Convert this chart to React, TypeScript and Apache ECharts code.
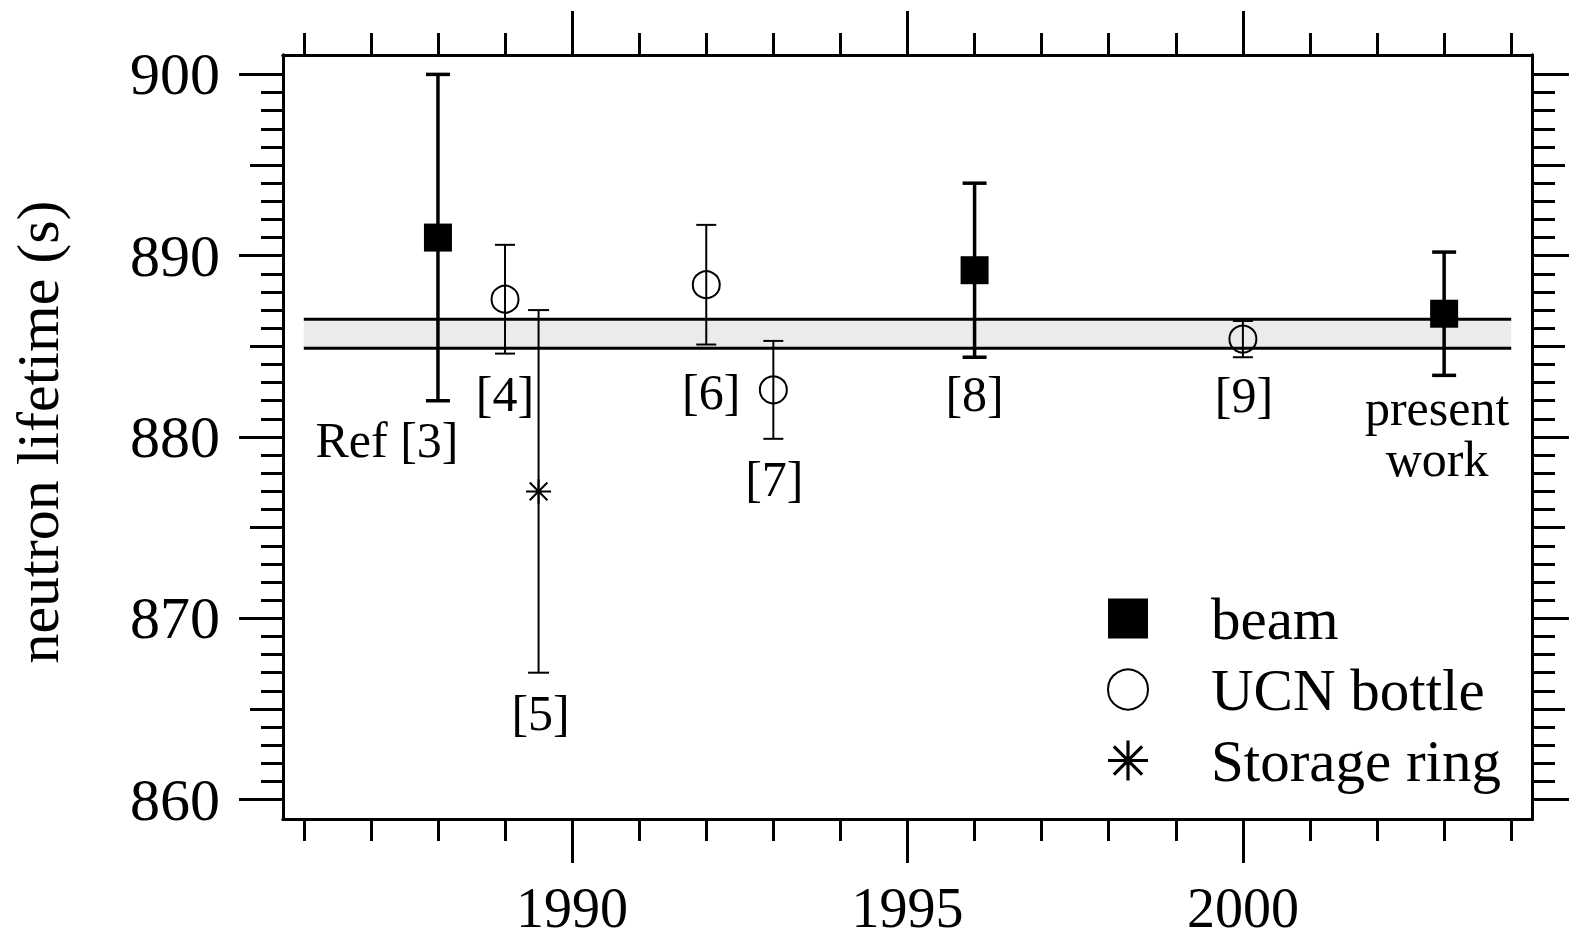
import React, { useEffect, useRef } from 'react';
import * as echarts from 'echarts';

// ---------------- data ----------------
const beamYears = [1988, 1996, 2003];
const beamValues = [891.0, 889.2, 886.8];
const beamErrors = [9.0, 4.8, 3.4];
const beamRefs = ['Ref [3]', '[8]', 'present\nwork'];

const ucnYears = [1989, 1992, 1993, 2000];
const ucnValues = [887.6, 888.4, 882.6, 885.4];
const ucnErrors = [3.0, 3.3, 2.7, 1.0];
const ucnRefs = ['[4]', '[6]', '[7]', '[9]'];

const ringYears = [1989.5];
const ringValues = [877.0];
const ringErrors = [10.0];
const ringRefs = ['[5]'];

const bandYears = [1986, 2004];
const bandLow = 884.9;
const bandHigh = 886.5;

const seriesNames = ['beam', 'UCN bottle', 'Storage ring'];
const yAxisTitle = 'neutron lifetime (s)';

const xMajorTicks = [1990, 1995, 2000];
const yMajorTicks = [860, 870, 880, 890, 900];
const yMidTicks = [865, 875, 885, 895];

// ---------------- styling ----------------
const FONT = '"Liberation Serif", "Times New Roman", Times, serif';
const X_MIN = 1985.69;
const X_MAX = 2004.31;
const Y_MIN = 858.93;
const Y_MAX = 901.07;

const xMinorTicks: number[] = [];
for (let y = 1986; y <= 2004; y++) if (!xMajorTicks.includes(y)) xMinorTicks.push(y);
const yMinorTicks: number[] = [];
for (let v = 861; v < 900; v++) if (v % 5 !== 0) yMinorTicks.push(v);

const labelOffsets: Record<string, [number, number]> = {
  'Ref [3]': [-51, 202],
  '[4]': [0, 95],
  '[5]': [2, 222],
  '[6]': [5, 107],
  '[7]': [1, 89],
  '[8]': [0, 124],
  '[9]': [1, 56],
  'present\nwork': [-7, 120],
};

const STAR_PATH =
  'path://M0 46L100 46L100 54L0 54Z' +
  'M46 0L54 0L54 100L46 100Z' +
  'M17.47 11.81L88.19 82.53L82.53 88.19L11.81 17.47Z' +
  'M88.19 17.47L17.47 88.19L11.81 82.53L82.53 11.81Z';

const lineStyle = { color: '#000', width: 3 };

function xAx(position: string, values: number[], length: number, labels: boolean) {
  return {
    type: 'value',
    position,
    min: X_MIN,
    max: X_MAX,
    axisLine: { show: true, onZero: false, lineStyle },
    axisTick: { show: true, customValues: values, length, lineStyle },
    axisLabel: labels
      ? {
          show: true,
          customValues: values,
          margin: 67,
          lineHeight: 44,
          formatter: (v: number) => String(v),
          fontFamily: FONT,
          fontSize: 56,
          color: '#000',
        }
      : { show: false },
    splitLine: { show: false },
  };
}

function yAx(position: string, values: number[], length: number, labels: boolean) {
  return {
    type: 'value',
    position,
    min: Y_MIN,
    max: Y_MAX,
    axisLine: { show: true, onZero: false, lineStyle },
    axisTick: { show: true, customValues: values, length, lineStyle },
    axisLabel: labels
      ? {
          show: true,
          customValues: values,
          margin: 63,
          formatter: (v: number) => String(v),
          fontFamily: FONT,
          fontSize: 60,
          color: '#000',
        }
      : { show: false },
    splitLine: { show: false },
  };
}

function errRender(lw: number, capHalf: number) {
  return (params: any, api: any) => {
    const x = api.value(0);
    const y = api.value(1);
    const e = api.value(2);
    const top = api.coord([x, y + e]);
    const bot = api.coord([x, y - e]);
    const style = { stroke: '#000', lineWidth: lw };
    return {
      type: 'group',
      children: [
        { type: 'line', shape: { x1: top[0], y1: top[1], x2: bot[0], y2: bot[1] }, style },
        { type: 'line', shape: { x1: top[0] - capHalf, y1: top[1], x2: top[0] + capHalf, y2: top[1] }, style },
        { type: 'line', shape: { x1: bot[0] - capHalf, y1: bot[1], x2: bot[0] + capHalf, y2: bot[1] }, style },
      ],
    };
  };
}

function errData(years: number[], vals: number[], errs: number[]) {
  return years.map((yr, i) => [yr, vals[i], errs[i]]);
}

const allRefs = [...beamRefs, ...ucnRefs, ...ringRefs];
const labelRows = [
  ...beamYears.map((yr, i) => [yr, beamValues[i]]),
  ...ucnYears.map((yr, i) => [yr, ucnValues[i]]),
  ...ringYears.map((yr, i) => [yr, ringValues[i]]),
];

function buildOption() {
  return {
    animation: false,
    backgroundColor: '#fff',
    grid: { left: 283, top: 55, width: 1249, height: 764, containLabel: false },
    xAxis: [
      xAx('bottom', xMajorTicks, 44, true),
      xAx('bottom', xMinorTicks, 22, false),
      xAx('top', xMajorTicks, 44, false),
      xAx('top', xMinorTicks, 22, false),
    ],
    yAxis: [
      yAx('left', yMajorTicks, 44, true),
      yAx('left', yMidTicks, 33, false),
      yAx('left', yMinorTicks, 22, false),
      yAx('right', yMajorTicks, 44, false),
      yAx('right', yMidTicks, 33, false),
      yAx('right', yMinorTicks, 23, false),
    ],
    legend: {
      orient: 'vertical',
      left: 1107,
      top: 589,
      padding: 0,
      itemWidth: 40,
      itemHeight: 40,
      itemGap: 12,
      selectedMode: false,
      data: seriesNames,
      textStyle: { fontFamily: FONT, fontSize: 59, color: '#000', padding: [0, 0, 0, 58] },
    },
    graphic: [
      {
        type: 'text',
        x: 38,
        y: 432,
        rotation: Math.PI / 2,
        style: {
          text: yAxisTitle,
          fontFamily: FONT,
          fontSize: 60,
          fill: '#000',
          align: 'center',
          verticalAlign: 'middle',
        },
      },
    ],
    series: [
      {
        type: 'custom',
        name: 'world average',
        z: 1,
        silent: true,
        encode: { x: [0, 1], y: [2, 3] },
        data: [[bandYears[0], bandYears[1], bandLow, bandHigh]],
        renderItem: (params: any, api: any) => {
          const p0 = api.coord([api.value(0), api.value(3)]);
          const p1 = api.coord([api.value(1), api.value(2)]);
          const ls = { stroke: '#000', lineWidth: 3 };
          return {
            type: 'group',
            children: [
              {
                type: 'rect',
                shape: { x: p0[0], y: p0[1], width: p1[0] - p0[0], height: p1[1] - p0[1] },
                style: { fill: '#ebebeb' },
              },
              { type: 'line', shape: { x1: p0[0], y1: p0[1], x2: p1[0], y2: p0[1] }, style: ls },
              { type: 'line', shape: { x1: p0[0], y1: p1[1], x2: p1[0], y2: p1[1] }, style: ls },
            ],
          };
        },
      },
      {
        type: 'custom',
        name: 'beam errors',
        z: 2,
        silent: true,
        encode: { x: 0, y: 1 },
        data: errData(beamYears, beamValues, beamErrors),
        renderItem: errRender(3.5, 12),
      },
      {
        type: 'custom',
        name: 'UCN errors',
        z: 2,
        silent: true,
        encode: { x: 0, y: 1 },
        data: errData(ucnYears, ucnValues, ucnErrors),
        renderItem: errRender(2, 10),
      },
      {
        type: 'custom',
        name: 'ring errors',
        z: 2,
        silent: true,
        encode: { x: 0, y: 1 },
        data: errData(ringYears, ringValues, ringErrors),
        renderItem: errRender(2, 10.5),
      },
      {
        type: 'scatter',
        name: seriesNames[0],
        z: 3,
        symbol: 'rect',
        symbolSize: 28,
        itemStyle: { color: '#000', opacity: 1 },
        data: beamYears.map((yr, i) => [yr, beamValues[i]]),
      },
      {
        type: 'scatter',
        name: seriesNames[1],
        z: 3,
        symbol: 'circle',
        symbolSize: 27,
        itemStyle: { color: 'rgba(0,0,0,0)', borderColor: '#000', borderWidth: 2, opacity: 1 },
        data: ucnYears.map((yr, i) => [yr, ucnValues[i]]),
      },
      {
        type: 'scatter',
        name: seriesNames[2],
        z: 3,
        symbol: STAR_PATH,
        symbolSize: 25,
        itemStyle: { color: '#000', opacity: 1 },
        data: ringYears.map((yr, i) => [yr, ringValues[i]]),
      },
      {
        type: 'custom',
        name: 'references',
        z: 4,
        silent: true,
        encode: { x: 0, y: 1 },
        data: labelRows,
        renderItem: (params: any, api: any) => {
          const text = allRefs[params.dataIndex];
          const p = api.coord([api.value(0), api.value(1)]);
          const off = labelOffsets[text] || [0, 0];
          return {
            type: 'text',
            x: p[0] + off[0],
            y: p[1] + off[1],
            style: {
              text,
              fill: '#000',
              fontFamily: FONT,
              fontSize: 50,
              lineHeight: 51,
              align: 'center',
              verticalAlign: 'middle',
            },
          };
        },
      },
    ],
  };
}

export default function App() {
  const ref = useRef<HTMLDivElement>(null);
  useEffect(() => {
    const chart = echarts.init(ref.current as HTMLDivElement, null, { renderer: 'svg' });
    chart.setOption(buildOption() as any);
    return () => chart.dispose();
  }, []);
  return (
    <div
      ref={ref}
      style={{ position: 'absolute', left: 0, top: 0, width: 1569, height: 945, background: '#fff' }}
    />
  );
}
